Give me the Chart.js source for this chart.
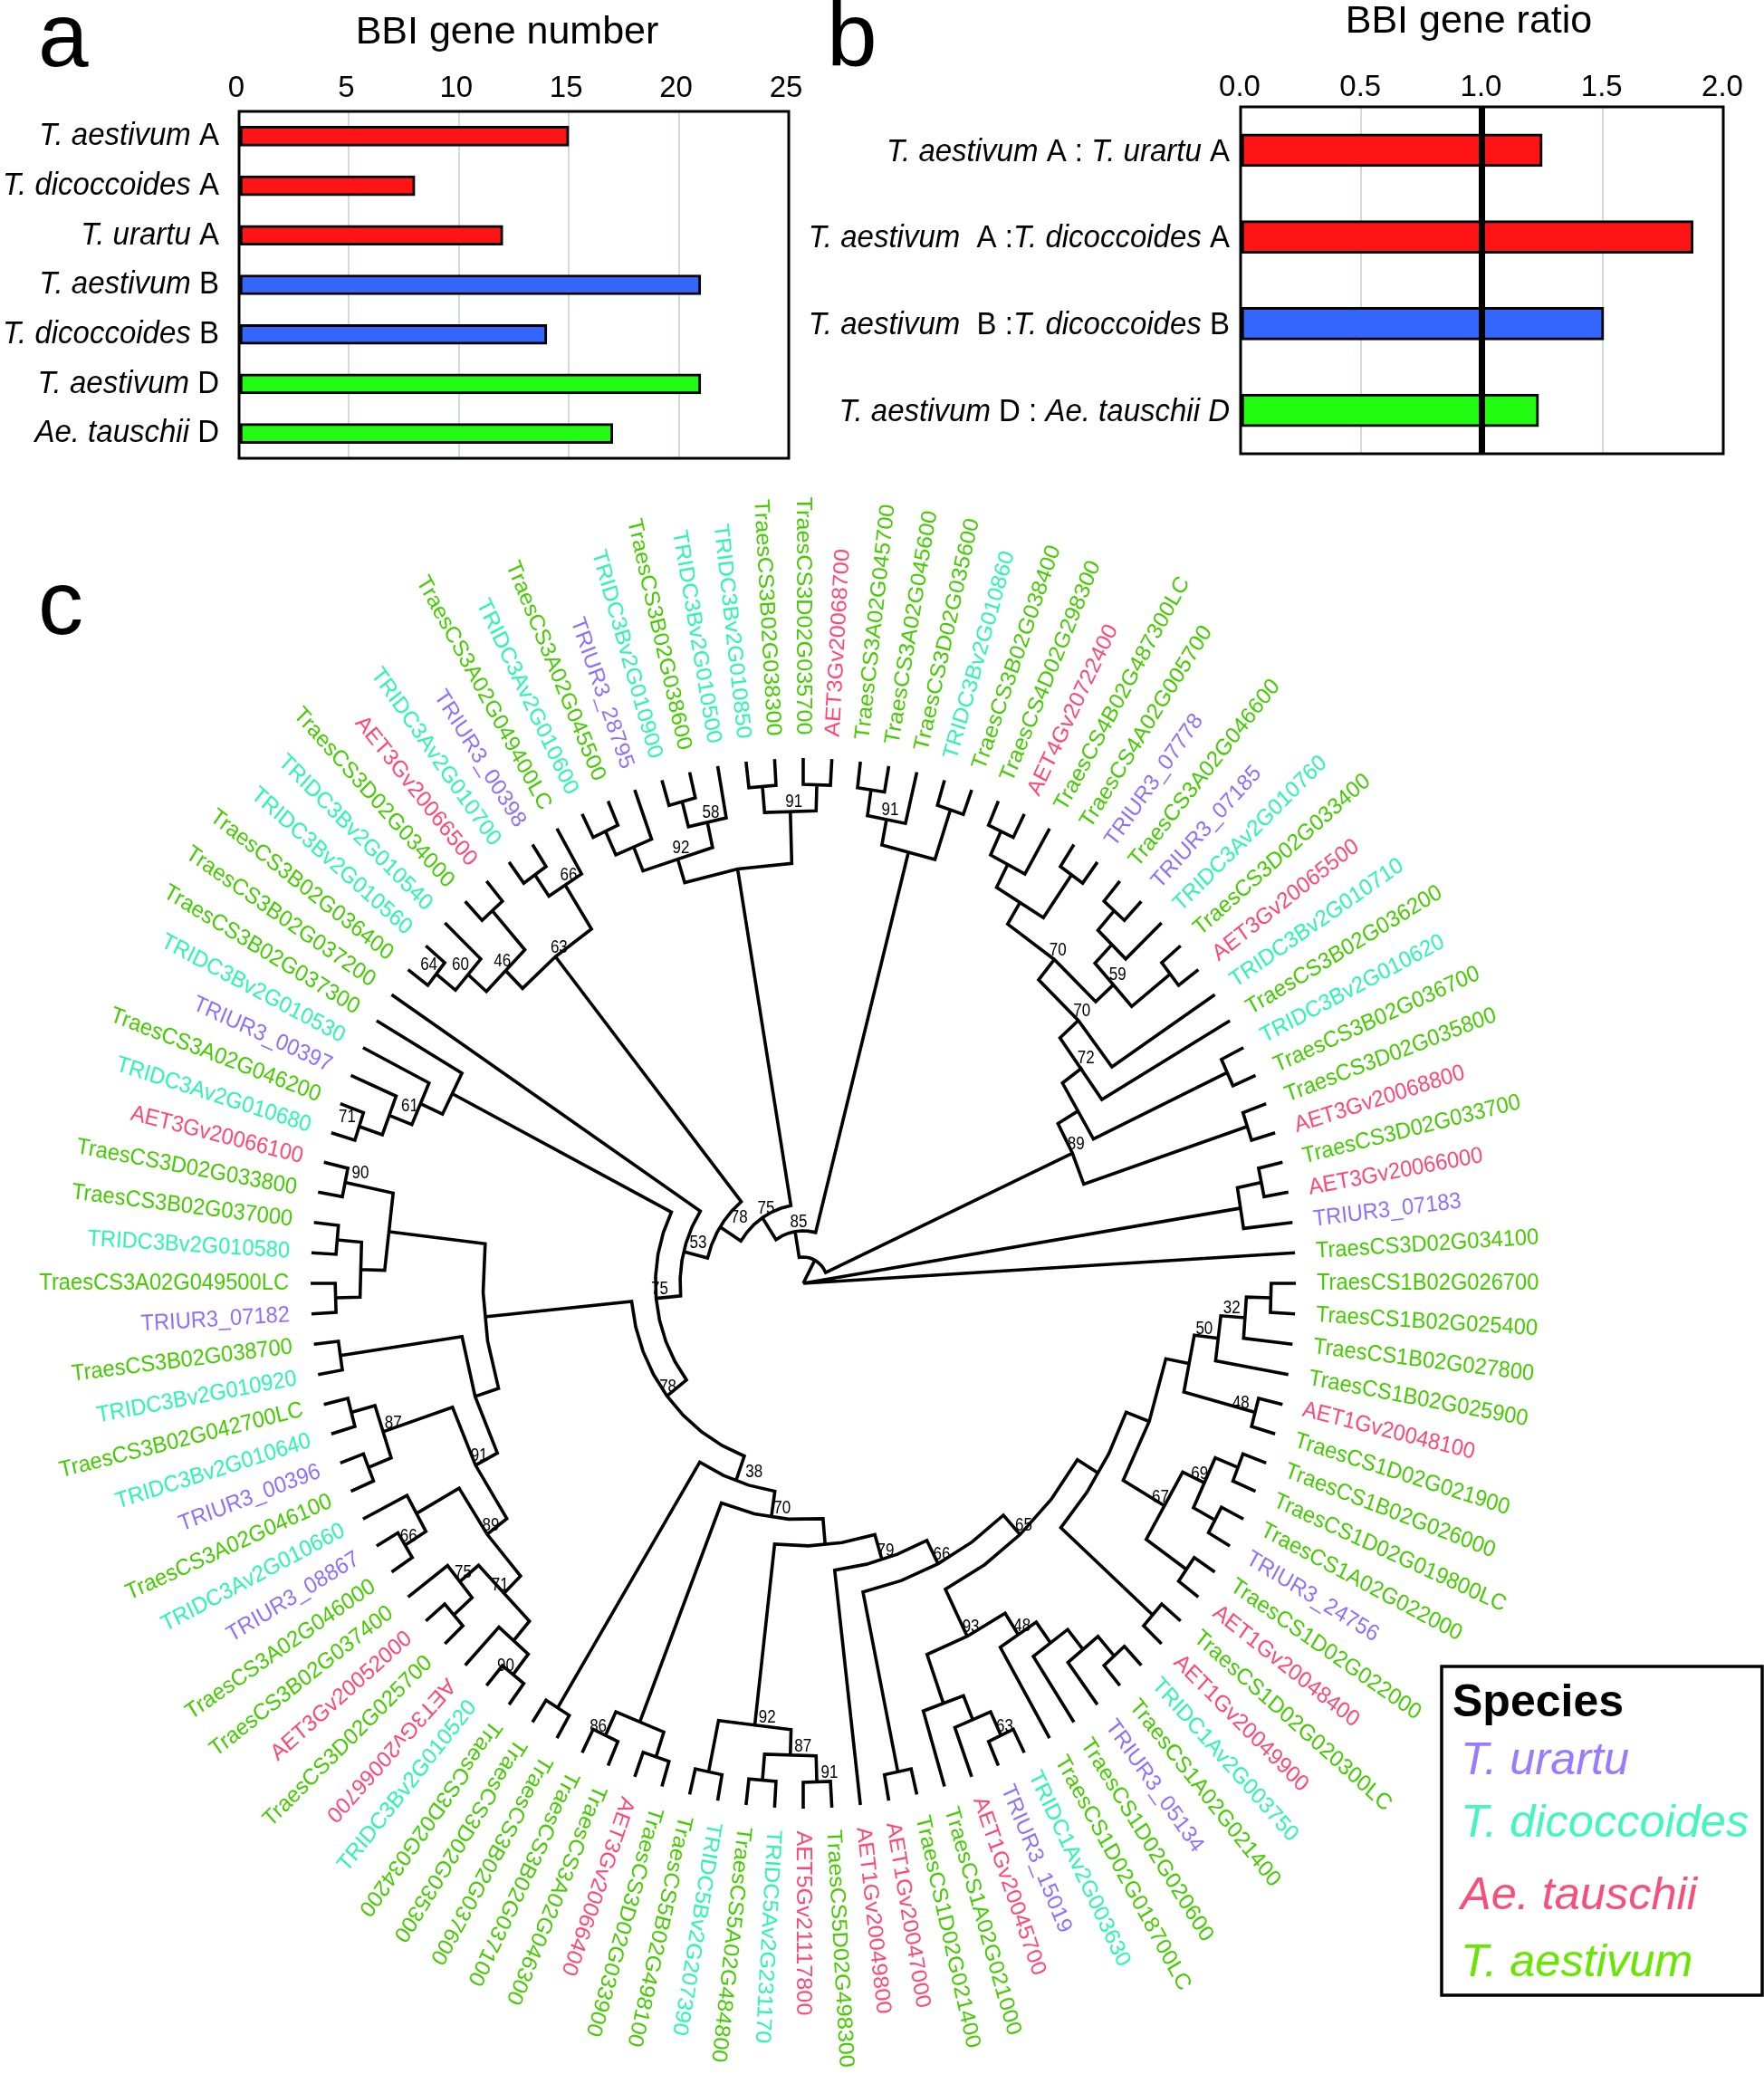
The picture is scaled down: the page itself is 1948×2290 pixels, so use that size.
<!DOCTYPE html>
<html>
<head>
<meta charset="utf-8">
<title>BBI genes</title>
<script src="https://cdn.jsdelivr.net/npm/chart.js@4/dist/chart.umd.min.js"></script>
<style>
  html,body{margin:0;padding:0;background:#fff;}
  canvas{position:absolute;top:0;}
  #tree{left:0;} #panelA{left:0;} #panelB{left:880px;}
</style>
</head>
<body>
<canvas id="tree" width="1948" height="2290"></canvas>
<canvas id="panelA" width="930" height="530"></canvas>
<canvas id="panelB" width="1068" height="530"></canvas>
<script>
// Panel a: gene counts. *...* marks the italic part of a label
const countLabels = ['*T. aestivum* A','*T. dicoccoides* A','*T. urartu* A','*T. aestivum* B','*T. dicoccoides* B','*T. aestivum* D','*Ae. tauschii* D'];
const countValues = [15, 8, 12, 21, 14, 21, 17];
const countColors = ['#fe1414','#fe1414','#fe1414','#3366ff','#3366ff','#22fb12','#22fb12'];

// Panel b: gene ratios
const ratioLabels = ['*T. aestivum* A : *T. urartu* A','*T. aestivum*  A :*T. dicoccoides* A','*T. aestivum*  B :*T. dicoccoides* B','*T. aestivum* D : *Ae. tauschii D*'];
const ratioValues = [1.25, 1.875, 1.505, 1.235];
const ratioColors = ['#fe1414','#fe1414','#3366ff','#22fb12'];
const ratioReference = 1.0;

// Panel c: leaves run clockwise from the 3 o'clock position
const leafNames = ['TraesCS1B02G026700','TraesCS1B02G025400','TraesCS1B02G027800','TraesCS1B02G025900','AET1Gv20048100','TraesCS1D02G021900','TraesCS1B02G026000','TraesCS1D02G019800LC','TraesCS1A02G022000','TRIUR3_24756','TraesCS1D02G022000','AET1Gv20048400','TraesCS1D02G020300LC','AET1Gv20049900','TRIDC1Av2G003750','TraesCS1A02G021400','TRIUR3_05134','TraesCS1D02G020600','TraesCS1D02G018700LC','TRIDC1Av2G003630','TRIUR3_15019','AET1Gv20045700','TraesCS1A02G021000','TraesCS1D02G021400','AET1Gv20047000','AET1Gv20049800','TraesCS5D02G498300','AET5Gv21117800','TRIDC5Av2G231170','TraesCS5A02G484800','TRIDC5Bv2G207390','TraesCS5B02G498100','TraesCS3D02G033900','AET3Gv20066400','TraesCS3A02G046300','TraesCS3B02G037100','TraesCS3B02G037600','TraesCS3D02G035300','TraesCS3D02G034200','TRIDC3Bv2G010520','AET3Gv20066700','TraesCS3D02G025700','AET3Gv20052000','TraesCS3B02G037400','TraesCS3A02G046000','TRIUR3_08867','TRIDC3Av2G010660','TraesCS3A02G046100','TRIUR3_00396','TRIDC3Bv2G010640','TraesCS3B02G042700LC','TRIDC3Bv2G010920','TraesCS3B02G038700','TRIUR3_07182','TraesCS3A02G049500LC','TRIDC3Bv2G010580','TraesCS3B02G037000','TraesCS3D02G033800','AET3Gv20066100','TRIDC3Av2G010680','TraesCS3A02G046200','TRIUR3_00397','TRIDC3Bv2G010530','TraesCS3B02G037300','TraesCS3B02G037200','TraesCS3B02G036400','TRIDC3Bv2G010560','TRIDC3Bv2G010540','TraesCS3D02G034000','AET3Gv20066500','TRIDC3Av2G010700','TRIUR3_00398','TraesCS3A02G049400LC','TRIDC3Av2G010600','TraesCS3A02G045500','TRIUR3_28795','TRIDC3Bv2G010900','TraesCS3B02G038600','TRIDC3Bv2G010500','TRIDC3Bv2G010850','TraesCS3B02G038300','TraesCS3D02G035700','AET3Gv20068700','TraesCS3A02G045700','TraesCS3A02G045600','TraesCS3D02G035600','TRIDC3Bv2G010860','TraesCS3B02G038400','TraesCS4D02G298300','AET4Gv20722400','TraesCS4B02G487300LC','TraesCS4A02G005700','TRIUR3_07778','TraesCS3A02G046600','TRIUR3_07185','TRIDC3Av2G010760','TraesCS3D02G033400','AET3Gv20065500','TRIDC3Bv2G010710','TraesCS3B02G036200','TRIDC3Bv2G010620','TraesCS3B02G036700','TraesCS3D02G035800','AET3Gv20068800','TraesCS3D02G033700','AET3Gv20066000','TRIUR3_07183','TraesCS3D02G034100'];

// Tree topology: [bootstrap, child, child]; numbers are 1-based positions in leafNames
const cladeCC = [null,['48',5,6],['50',['32',3,[null,1,2]],4]];
const clade67 = ['67',['69',[null,9,10],[null,7,8]],[null,11,12]];
const clade93 = ['93',[null,23,[null,22,['63',20,21]]],['48',19,[null,18,[null,17,[null,15,16]]]]];
const clade65 = ['65',clade93,[null,[null,13,14],[null,clade67,cladeCC]]];
const clade79 = ['79',26,['66',[null,24,25],clade65]];
const clade92 = ['92',[null,31,32],['87',[null,29,30],['91',27,28]]];
const clade70 = ['70',[null,['86',35,36],[null,33,34]],[null,clade92,clade79]];
const clade38 = ['38',[null,37,38],clade70];
const clade89b = ['89',[null,47,['66',45,46]],['71',['75',44,[null,42,43]],[null,41,['90',39,40]]]];
const clade91 = ['91',['87',[null,50,51],[null,48,49]],clade89b];
const cladeY = [null,[null,['90',58,59],[null,[null,56,57],[null,54,55]]],[null,[null,52,53],clade91]];
const clade75b = ['75',[null,64,[null,63,['61',62,['71',60,61]]]],['78',cladeY,clade38]];
const clade63 = ['63',['66',73,[null,71,72]],['46',[null,69,70],['60',68,['64',66,67]]]];
const clade78 = ['78',clade63,['53',65,clade75b]];
const cladeTop = [null,['91',[null,82,83],[null,80,81]],['92',['58',79,[null,77,78]],[null,76,[null,74,75]]]];
const clade85 = ['85',[null,[null,87,88],['91',86,[null,84,85]]],['75',cladeTop,clade78]];
const clade59 = ['59',[null,97,98],[null,96,[null,94,95]]];
const cladeC = [null,[null,92,93],[null,91,[null,89,90]]];
const clade89 = ['89',[null,103,104],[null,[null,101,102],['72',100,['70',99,['70',clade59,cladeC]]]]];
const treeRoot = [null,108,[null,[null,105,106],107],[null,clade85,clade89]];

// Legend
const legendTitle = 'Species';
const legendNames = ['T. urartu','T. dicoccoides','Ae. tauschii','T. aestivum'];
const legendColors = ['#9a7bff','#44f5c0','#f6507a','#66e600'];

const FONT = '"Liberation Sans", Arial, sans-serif';
const speciesColor = name =>
  name.startsWith('AET') ? '#ff4775' :
  name.startsWith('TRIUR') ? '#8f6fff' :
  name.startsWith('TRIDC') ? '#2af5b2' : '#44cc00';

// Draw a right-aligned label with *italic* runs, slightly taller than wide like the figure
function drawRuns(ctx, label, right, y, size){
  const runs = label.split('*');
  const fontOf = i => (i % 2 ? 'italic ' : '') + size + 'px ' + FONT;
  let width = 0;
  runs.forEach((r,i)=>{ ctx.font = fontOf(i); width += ctx.measureText(r).width; });
  let x = right - width;
  ctx.save();
  ctx.translate(0, y);
  ctx.scale(1, 1.07);
  ctx.textAlign = 'left';
  ctx.textBaseline = 'middle';
  ctx.fillStyle = '#000';
  runs.forEach((r,i)=>{ ctx.font = fontOf(i); ctx.fillText(r, x, 0); x += ctx.measureText(r).width; });
  ctx.restore();
}

function barPanel(id, cfg){
  const canvas = document.getElementById(id);
  const panelText = {
    id:'panelText',
    afterDraw(chart){
      const {ctx, chartArea:a, scales:{x,y}} = chart;
      ctx.save();
      if (cfg.reference !== undefined){
        ctx.strokeStyle = '#000'; ctx.lineWidth = 7;
        ctx.beginPath();
        ctx.moveTo(x.getPixelForValue(cfg.reference), a.top);
        ctx.lineTo(x.getPixelForValue(cfg.reference), a.bottom);
        ctx.stroke();
      }
      ctx.strokeStyle = '#000'; ctx.lineWidth = 3;
      ctx.strokeRect(a.left, a.top, a.right-a.left, a.bottom-a.top);
      cfg.labels.forEach((l,i)=>drawRuns(ctx, l, cfg.labelRight, y.getPixelForValue(i)+cfg.labelShift, 33));
      ctx.fillStyle = '#000';
      ctx.textBaseline = 'alphabetic';
      ctx.textAlign = 'center';
      ctx.font = '43px ' + FONT;
      ctx.fillText(cfg.title, cfg.titleX, cfg.titleY);
      ctx.textAlign = 'left';
      ctx.font = '100px ' + FONT;
      ctx.fillText(cfg.letter, cfg.letterX, 73);
      ctx.restore();
    }
  };
  return new Chart(canvas, {
    type:'bar',
    data:{
      labels:cfg.labels.map(l=>l.replace(/\*/g,'')),
      datasets:[{
        data:cfg.values,
        backgroundColor:cfg.colors,
        borderColor:'#000',
        borderWidth:3,
        borderSkipped:false,
        barThickness:cfg.barThickness
      }]
    },
    options:{
      indexAxis:'y',
      responsive:false,
      animation:false,
      devicePixelRatio:1,
      layout:{padding:{left:0,top:0,right:cfg.padRight,bottom:cfg.padBottom}},
      plugins:{legend:{display:false},tooltip:{enabled:false},title:{display:false}},
      scales:{
        x:{
          position:'top', min:0, max:cfg.max,
          afterFit(s){ s.height = cfg.plotTop; },
          border:{display:false},
          grid:{color:'#cfdcdc',lineWidth:2,drawTicks:false},
          ticks:{stepSize:cfg.step,color:'#000',padding:cfg.tickPad,labelOffset:cfg.tickShift,maxRotation:0,autoSkip:false,
            font:{family:FONT,size:33},callback:cfg.tickFormat}
        },
        y:{
          afterFit(s){ s.width = cfg.plotLeft; },
          border:{display:false},
          grid:{display:false,drawTicks:false},
          ticks:{display:false}
        }
      }
    },
    plugins:[panelText]
  });
}

barPanel('panelA',{
  labels:countLabels, values:countValues, colors:countColors, max:25, step:5,
  tickFormat:v=>String(v), barThickness:22, plotLeft:264, plotTop:123, padRight:59, padBottom:24,
  tickPad:5, tickShift:-3, labelRight:242, labelShift:0, title:'BBI gene number', titleX:560, titleY:48, letter:'a', letterX:42
});
barPanel('panelB',{
  labels:ratioLabels, values:ratioValues, colors:ratioColors, max:2, step:0.5,
  tickFormat:v=>v.toFixed(1), barThickness:36, plotLeft:490, plotTop:118, padRight:45, padBottom:29,
  tickPad:1, tickShift:-1, labelRight:478, labelShift:2, title:'BBI gene ratio', titleX:742, titleY:36, letter:'b', letterX:33,
  reference:ratioReference
});

// Tree layout: a node's radius follows its height above the tips
const tipRadius = 544, treeCx = 887, treeCy = 1417, stretchY = 1.066;
const leafAngle = i => (i-1)*360/leafNames.length;
const polar = (r,deg)=>({x:r*Math.cos(deg*Math.PI/180), y:r*Math.sin(deg*Math.PI/180)});
const treeNodes = [];
function walk(n){
  if (typeof n === 'number') return {h:0, a:leafAngle(n), maxLeaf:n};
  const kids = n.slice(1).map(walk);
  const h = 1 + Math.max(...kids.map(k=>k.h));
  const a = (kids[0].a + kids[kids.length-1].a)/2;
  const node = {label:n[0], h, a, kids, maxLeaf:Math.max(...kids.map(k=>k.maxLeaf))};
  treeNodes.push(node);
  return node;
}
const rootNode = walk(treeRoot);
const levelStep = tipRadius/rootNode.h;
const radiusOf = h => tipRadius - h*levelStep;

const branchPoints = [];
const gap = {x:NaN,y:NaN};
treeNodes.forEach(node=>{
  const r = radiusOf(node.h);
  if (node === rootNode){
    node.kids.forEach(k=>branchPoints.push(polar(0,0), polar(radiusOf(k.h),k.a), gap));
    return;
  }
  const [c1,c2] = node.kids;
  const a1 = Math.min(c1.a,c2.a), a2 = Math.max(c1.a,c2.a);
  const first = c1.a===a1 ? c1 : c2, last = c1.a===a1 ? c2 : c1;
  branchPoints.push(polar(radiusOf(first.h),a1));
  const steps = Math.max(1, Math.round((a2-a1)/8));
  for (let s=0; s<=steps; s++) branchPoints.push(polar(r, a1+(a2-a1)*s/steps));
  branchPoints.push(polar(radiusOf(last.h),a2), gap);
});

// Hand nudges for bootstrap text, keyed by value and highest leaf of the clade
const bootNudge = {'48_6':-20,'32_3':-19,'50_4':-20,'67_12':-10,'69_10':-10,'38_38':16,'70_36':8,'86_36':-12,
  '78_59':-3,'78_73':17,'53_65':12,'61_62':19,'71_61':-17,'90_59':13,'87_51':8,'92_32':10,'87_30':10,'91_28':10,
  '64_67':-12,'60_68':-12,'46_70':-7,'90_40':-12,'71_44':-7};

const treeText = {
  id:'treeText',
  afterDraw(chart){
    const {ctx, scales:{x,y}} = chart;
    ctx.save();
    // leaf names, sheared with the stretched tree
    ctx.font = '23.7px ' + FONT;
    ctx.textBaseline = 'middle';
    leafNames.forEach((name,k)=>{
      const i = k+1, deg = leafAngle(i);
      const flipped = (i>=40 && i<=82 && i!==41);
      const p = polar(flipped ? 568 : 567, deg);
      ctx.save();
      ctx.translate(x.getPixelForValue(p.x), y.getPixelForValue(p.y));
      ctx.scale(1, stretchY);
      ctx.rotate((flipped ? deg+180 : deg)*Math.PI/180);
      ctx.textAlign = flipped ? 'right' : 'left';
      ctx.fillStyle = speciesColor(name);
      ctx.fillText(name, 0, 0);
      ctx.restore();
    });
    // bootstrap values sit just above the node
    ctx.fillStyle = '#000';
    ctx.textAlign = 'center';
    treeNodes.forEach(node=>{
      if (!node.label) return;
      const p = polar(radiusOf(node.h), node.a);
      const nudge = bootNudge[node.label + '_' + node.maxLeaf] || 0;
      ctx.save();
      ctx.translate(x.getPixelForValue(p.x)+4+nudge, y.getPixelForValue(p.y)-10);
      ctx.scale(0.85,1);
      ctx.font = '20px ' + FONT;
      ctx.fillText(node.label, 0, 0);
      ctx.restore();
    });
    // panel letter
    ctx.textAlign = 'left';
    ctx.textBaseline = 'alphabetic';
    ctx.font = '100px ' + FONT;
    ctx.fillText('c', 42, 700);
    // legend box
    ctx.strokeStyle = '#000';
    ctx.lineWidth = 3.5;
    ctx.strokeRect(1592, 1840, 354, 363);
    ctx.font = 'bold 50px ' + FONT;
    ctx.fillText(legendTitle, 1604, 1895);
    const baselines = [1959, 2028, 2108, 2182];
    ctx.font = 'italic 50.5px ' + FONT;
    legendNames.forEach((n,i)=>{
      ctx.fillStyle = legendColors[i];
      ctx.fillText(n, 1613, baselines[i]);
    });
    ctx.restore();
  }
};

new Chart(document.getElementById('tree'),{
  type:'scatter',
  data:{datasets:[{
    data:branchPoints,
    showLine:true,
    spanGaps:false,
    pointRadius:0,
    borderColor:'#000',
    borderWidth:3.6,
    borderJoinStyle:'miter',
    borderCapStyle:'butt',
    borderDash:[5000,0]
  }]},
  options:{
    responsive:false,
    animation:false,
    devicePixelRatio:1,
    layout:{padding:0},
    plugins:{legend:{display:false},tooltip:{enabled:false}},
    scales:{
      x:{display:false,min:-treeCx,max:1948-treeCx},
      y:{display:false,reverse:true,min:-treeCy/stretchY,max:(2290-treeCy)/stretchY}
    }
  },
  plugins:[treeText]
});
</script>
</body>
</html>
